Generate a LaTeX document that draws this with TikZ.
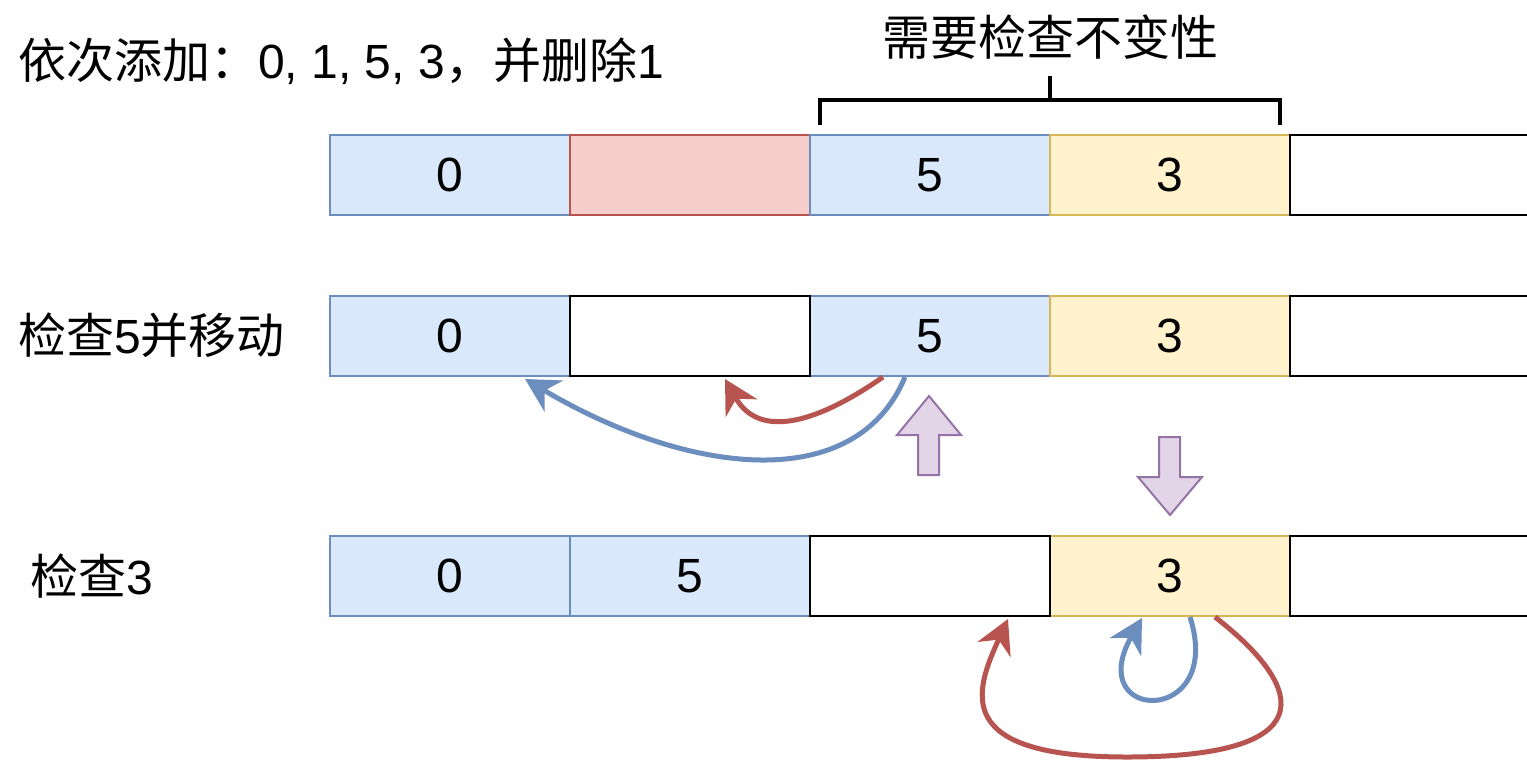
\documentclass[tikz,border=0pt]{standalone}
\usepackage{fontspec}
\setmainfont{Liberation Sans}
\newfontfamily\cjk{Noto Sans CJK SC}
\usetikzlibrary{arrows.meta,calc}
\definecolor{bfill}{HTML}{DAE8FC}\definecolor{bline}{HTML}{6C8EBF}
\definecolor{rfill}{HTML}{F8CECC}\definecolor{rline}{HTML}{B85450}
\definecolor{yfill}{HTML}{FFF2CC}\definecolor{yline}{HTML}{D6B656}
\definecolor{pfill}{HTML}{E1D5E7}\definecolor{pline}{HTML}{9673A6}
\tikzset{
  cell/.style={minimum width=180pt,minimum height=60pt,inner sep=0pt,line width=1.5pt,font=\fontsize{36pt}{40pt}\selectfont},
  bcell/.style={cell,draw=bline,fill=bfill},
  rcell/.style={cell,draw=rline,fill=rfill},
  ycell/.style={cell,draw=yline,fill=yfill},
  wcell/.style={cell,draw=black,fill=white},
  lbl/.style={inner sep=0pt,anchor=base west,font=\fontsize{36pt}{40pt}\selectfont},
  arr/.style={line width=3.75pt,-{Stealth[length=25pt,width=27pt,inset=8pt]}},
  blk/.style={draw=pline,fill=pfill,line width=1.5pt},
}
\begin{document}
\begin{tikzpicture}[x=0.75pt,y=-0.75pt]
\useasboundingbox (0,0) rectangle (1527,761);
% row 1
\node[bcell] (r1c1) at (450,175) {0};
\node[rcell] (r1c2) at (690,175) {};
\node[bcell] (r1c3) at (930,175) {5};
\node[ycell] (r1c4) at (1170,175) {3};
\node[wcell] (r1c5) at (1410,175) {};
% row 2
\node[bcell] (r2c1) at (450,336) {0};
\node[bcell] (r2c3) at (930,336) {5};
\node[ycell] (r2c4) at (1170,336) {3};
\node[wcell] (r2c2) at (690,336) {};
\node[wcell] (r2c5) at (1410,336) {};
% row 3
\node[bcell] (r3c1) at (450,576) {0};
\node[bcell] (r3c2) at (690,576) {5};
\node[ycell] (r3c4) at (1170,576) {3};
\node[wcell] (r3c3) at (930,576) {};
\node[wcell] (r3c5) at (1410,576) {};
% texts
\node[lbl] (t0) at (18,78) {{\cjk 依次添加：}0, 1, 5, 3{\cjk ，并删除}1};
\node[lbl,anchor=base] (t1) at (1050,55) {\cjk 需要检查不变性};
\node[lbl] (t2) at (18,353) {{\cjk 检查}5{\cjk 并移动}};
\node[lbl] (t3) at (30,594) {{\cjk 检查}3};
% bracket
\draw[line width=2.5pt] (820,125) -- (820,100) -- (1280,100) -- (1280,125);
\draw[line width=2.5pt] (1050,100) -- (1050,76);
% row 2 arrows
\draw[arr,draw=bline] ($(r2c3.south)+(-25,0)$) .. controls +(-50,120) and +(160,95) .. ($(r2c1.south)+(75,2)$);
\draw[arr,draw=rline] ($(r2c3.south)+(-47,0)$) .. controls +(-63,44) and +(35,62) .. ($(r2c2.south)+(35,2)$);
% block arrows
\draw[blk] (929,396) -- (961,435) -- (939,435) -- (939,475) -- (918,475) -- (918,435) -- (897,435) -- cycle;
\draw[blk] (1170,515) -- (1202,477) -- (1180,477) -- (1180,437) -- (1159,437) -- (1159,477) -- (1138,477) -- cycle;
% row 3 arrows
\coordinate (B) at (1127,757);
\draw[arr,draw=bline] ($(r3c4.south)+(20,0)$) .. controls +(35,110) and +(-60,105) .. ($(r3c4.south)+(-28,1)$);
\draw[arr,draw=rline] ($(r3c4.south)+(45,0)$) .. controls +(95,74) and +(193,0) .. (B) .. controls +(-177,0) and +(-33,72) .. ($(r3c3.south)+(78,2)$);
\end{tikzpicture}
\end{document}
